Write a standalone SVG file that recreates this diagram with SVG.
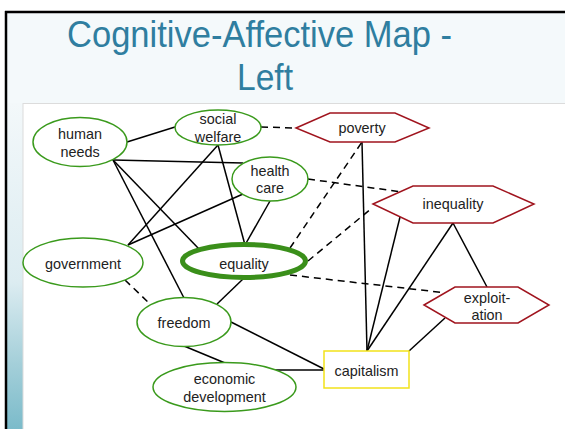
<svg xmlns="http://www.w3.org/2000/svg" width="565" height="429" viewBox="0 0 565 429">
  <defs>
    <linearGradient id="sideStrip" x1="0" y1="103" x2="0" y2="429" gradientUnits="userSpaceOnUse">
      <stop offset="0" stop-color="#f3f8fa"/>
      <stop offset="0.55" stop-color="#dcecf1"/>
      <stop offset="0.8" stop-color="#a4cfd9"/>
      <stop offset="1" stop-color="#7bbbca"/>
    </linearGradient>
    <style>
      .title { font-family: "Liberation Sans", Arial, sans-serif; font-size: 36px; fill: #2f7ea0; }
      .lbl { font-family: "Liberation Sans", Arial, sans-serif; font-size: 14.4px; fill: #222; text-anchor: middle; dominant-baseline: central; }
      .pos { fill: #fff; stroke: #3a9a1c; stroke-width: 1.5; }
      .core { fill: #fff; stroke: #3a8f1a; stroke-width: 5; }
      .neg { fill: #fff; stroke: #a0141e; stroke-width: 1.5; }
      .neutral { fill: #fff; stroke: #f2e21a; stroke-width: 1.5; }
      .link { stroke: #000; stroke-width: 1.5; fill: none; }
      .anti { stroke: #000; stroke-width: 1.5; fill: none; stroke-dasharray: 7 5; }
    </style>
  </defs>

  <!-- slide frame -->
  <rect x="0" y="0" width="565" height="429" fill="#fff"/>
  <rect x="6" y="12" width="559" height="417" fill="#f4f9fb"/>
  <rect x="7" y="103" width="16" height="326" fill="url(#sideStrip)"/>
  <line x1="5" y1="12" x2="565" y2="12" stroke="#000" stroke-width="2.5"/>
  <line x1="6" y1="11" x2="6" y2="429" stroke="#000" stroke-width="2.5"/>

  <!-- title -->
  <text class="title" x="67" y="46.5" textLength="385" lengthAdjust="spacingAndGlyphs">Cognitive-Affective Map -</text>
  <text class="title" x="237" y="90" textLength="56" lengthAdjust="spacingAndGlyphs">Left</text>

  <!-- map canvas -->
  <rect x="23" y="103.5" width="543" height="326" fill="#fff" stroke="#dcdcdc" stroke-width="1"/>

  <!-- connectors -->
  <g id="connectors">
    <line class="link" x1="127" y1="142" x2="175" y2="127"/>
    <line class="link" x1="113" y1="160" x2="243" y2="163"/>
    <line class="link" x1="113" y1="160" x2="200" y2="250"/>
    <line class="link" x1="113" y1="160" x2="184" y2="298"/>
    <line class="link" x1="218" y1="145" x2="128" y2="245"/>
    <line class="link" x1="218" y1="145" x2="245" y2="245"/>
    <line class="link" x1="243" y1="194" x2="128" y2="245"/>
    <line class="link" x1="270" y1="201" x2="245" y2="245"/>
    <line class="link" x1="243" y1="279" x2="217" y2="304"/>
    <line class="link" x1="231" y1="322" x2="324" y2="369"/>
    <line class="link" x1="184" y1="346" x2="225" y2="363"/>
    <line class="link" x1="275" y1="370" x2="324" y2="370"/>
    <line class="link" x1="362" y1="142" x2="367" y2="351"/>
    <line class="link" x1="400" y1="217" x2="367" y2="351"/>
    <line class="link" x1="453" y1="223" x2="367" y2="351"/>
    <line class="link" x1="453" y1="223" x2="487" y2="287"/>
    <line class="link" x1="445" y1="318" x2="409" y2="351"/>

    <line class="anti" x1="261" y1="127" x2="296" y2="128"/>
    <line class="anti" x1="308" y1="179" x2="402" y2="192"/>
    <line class="anti" x1="290" y1="248" x2="362" y2="142"/>
    <line class="anti" x1="308" y1="261" x2="372" y2="208"/>
    <line class="anti" x1="290" y1="275" x2="447" y2="293"/>
    <line class="anti" x1="125" y1="280" x2="149" y2="303"/>
  </g>

  <!-- nodes -->
  <g id="human-needs">
    <ellipse class="pos" cx="80" cy="142" rx="47" ry="24.5"/>
    <text class="lbl" x="80" y="134">human</text>
    <text class="lbl" x="80" y="152">needs</text>
  </g>
  <g id="social-welfare">
    <ellipse class="pos" cx="218" cy="127.5" rx="43" ry="17.5"/>
    <text class="lbl" x="218" y="119">social</text>
    <text class="lbl" x="218" y="137">welfare</text>
  </g>
  <g id="health-care">
    <ellipse class="pos" cx="270" cy="179" rx="38" ry="22"/>
    <text class="lbl" x="270" y="171">health</text>
    <text class="lbl" x="270" y="188">care</text>
  </g>
  <g id="government">
    <ellipse class="pos" cx="83" cy="262.5" rx="60" ry="24.5"/>
    <text class="lbl" x="83" y="264">government</text>
  </g>
  <g id="equality">
    <ellipse class="core" cx="244" cy="261" rx="61.5" ry="16.5"/>
    <text class="lbl" x="244" y="264">equality</text>
  </g>
  <g id="freedom">
    <ellipse class="pos" cx="184" cy="322" rx="47" ry="24.5"/>
    <text class="lbl" x="184" y="323">freedom</text>
  </g>
  <g id="economic-development">
    <ellipse class="pos" cx="224.5" cy="387" rx="71.5" ry="24.5"/>
    <text class="lbl" x="224.5" y="379">economic</text>
    <text class="lbl" x="224.5" y="396.5">development</text>
  </g>
  <g id="capitalism">
    <rect class="neutral" x="324" y="351" width="85" height="37"/>
    <text class="lbl" x="366.5" y="370.5">capitalism</text>
  </g>
  <g id="poverty">
    <polygon class="neg" points="296,128 330,113 395,113 429,128 395,142 330,142"/>
    <text class="lbl" x="362" y="128">poverty</text>
  </g>
  <g id="inequality">
    <polygon class="neg" points="373,204 413,186 493,186 534,204 493,223 413,223"/>
    <text class="lbl" x="453" y="204">inequality</text>
  </g>
  <g id="exploitation">
    <polygon class="neg" points="424,305 455,287 518,287 549,305 518,323 455,323"/>
    <text class="lbl" x="487" y="297.5">exploit-</text>
    <text class="lbl" x="487" y="315">ation</text>
  </g>
</svg>
